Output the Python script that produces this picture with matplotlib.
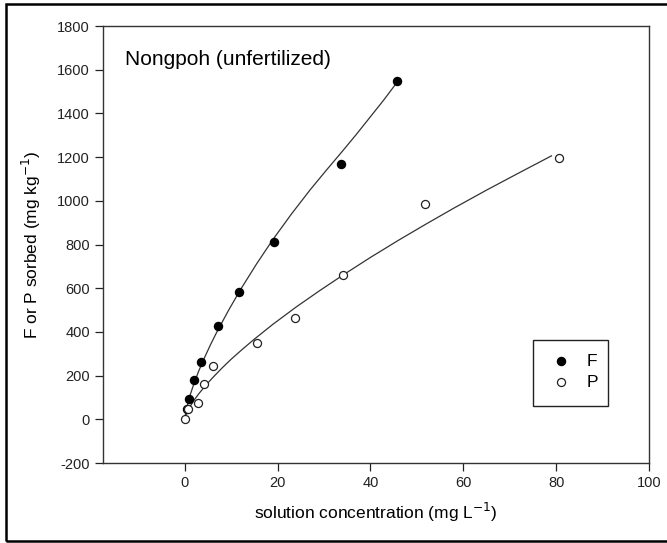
import matplotlib
matplotlib.use('Agg')
import matplotlib.pyplot as plt
from matplotlib.patches import Rectangle

plt.rcParams['font.family'] = ['Liberation Sans', 'DejaVu Sans']
plt.rcParams['axes.unicode_minus'] = False

# measured points (solution conc., amount sorbed)
f_conc = [0.5, 0.9, 2.0, 3.6, 7.2, 11.7, 19.2, 33.6, 45.7]
f_sorbed = [45, 93, 180, 264, 428, 584, 810, 1167, 1549]
p_conc = [0.15, 0.7, 2.9, 4.2, 6.0, 15.5, 23.8, 34.1, 51.7, 80.6]
p_sorbed = [0, 46, 73, 160, 244, 348, 465, 660, 985, 1196]

# fitted curves
f_fit_x = [0, 0.3, 1, 2, 3, 4, 5.5, 7, 9.5, 12, 15.5, 19, 23, 27, 30.5, 34, 37, 40, 43, 45.5]
f_fit_y = [0, 42, 100, 164, 220, 270, 339, 403, 501, 593, 712, 823, 940, 1050, 1140,
           1228, 1305, 1385, 1465, 1536]
p_fit_x = [0, 0.3, 1, 2, 3, 4.5, 6, 8, 10, 12.5, 15, 19, 24, 29, 34, 40, 46, 52, 58, 65, 72, 79]
p_fit_y = [0, 22, 53, 87, 116, 155, 190, 234, 275, 322, 367, 435, 514, 588, 659, 741,
           819, 894, 967, 1049, 1128, 1206]

fig = plt.figure(figsize=(6.67, 5.43), dpi=100)
ax = fig.add_axes([0.1544, 0.1473, 0.8186, 0.8047])

ax.plot(f_fit_x, f_fit_y, color='#333333', lw=0.9)
ax.plot(p_fit_x, p_fit_y, color='#333333', lw=0.9)
ax.plot(f_conc, f_sorbed, 'o', color='black', ms=5.8, mec='black', zorder=3)
ax.plot(p_conc, p_sorbed, 'o', mfc='white', mec='#222222', mew=0.9, ms=5.8, zorder=3)

ax.set_xlim(-17.6, 100)
ax.set_ylim(-200, 1800)
ax.set_xticks([0, 20, 40, 60, 80, 100])
ax.set_yticks(range(-200, 1801, 200))
ax.tick_params(direction='out', length=6, width=0.9, labelsize=10.5, colors='#222222')
for s in ax.spines.values():
    s.set_linewidth(1.0)
    s.set_color('#333333')

ax.set_xlabel('solution concentration (mg L$^{-1}$)', fontsize=12.5, labelpad=8)
ax.set_ylabel('F or P sorbed (mg kg$^{-1}$)', fontsize=12.5, labelpad=10)

ax.text(0.0403, 0.911, 'Nongpoh (unfertilized)', transform=ax.transAxes,
        fontsize=15, va='baseline', ha='left')

# legend box
ax.add_patch(Rectangle((0.7875, 0.1304), 0.1375, 0.1511, transform=ax.transAxes,
                       fill=False, ec='#222222', lw=1.0))
ax.plot([0.839], [0.2334], 'o', color='black', ms=5.8, transform=ax.transAxes)
ax.plot([0.839], [0.1854], 'o', mfc='white', mec='#222222', mew=0.9, ms=5.8,
        transform=ax.transAxes)
ax.text(0.886, 0.2334, 'F', transform=ax.transAxes, fontsize=12.5, va='center')
ax.text(0.886, 0.1854, 'P', transform=ax.transAxes, fontsize=12.5, va='center')

# outer frame
fig.patches.append(Rectangle((6 / 667, 2 / 543), 1.02, 537 / 543, transform=fig.transFigure,
                             fill=False, ec='black', lw=1.8))

fig.savefig('out.png', dpi=100)
